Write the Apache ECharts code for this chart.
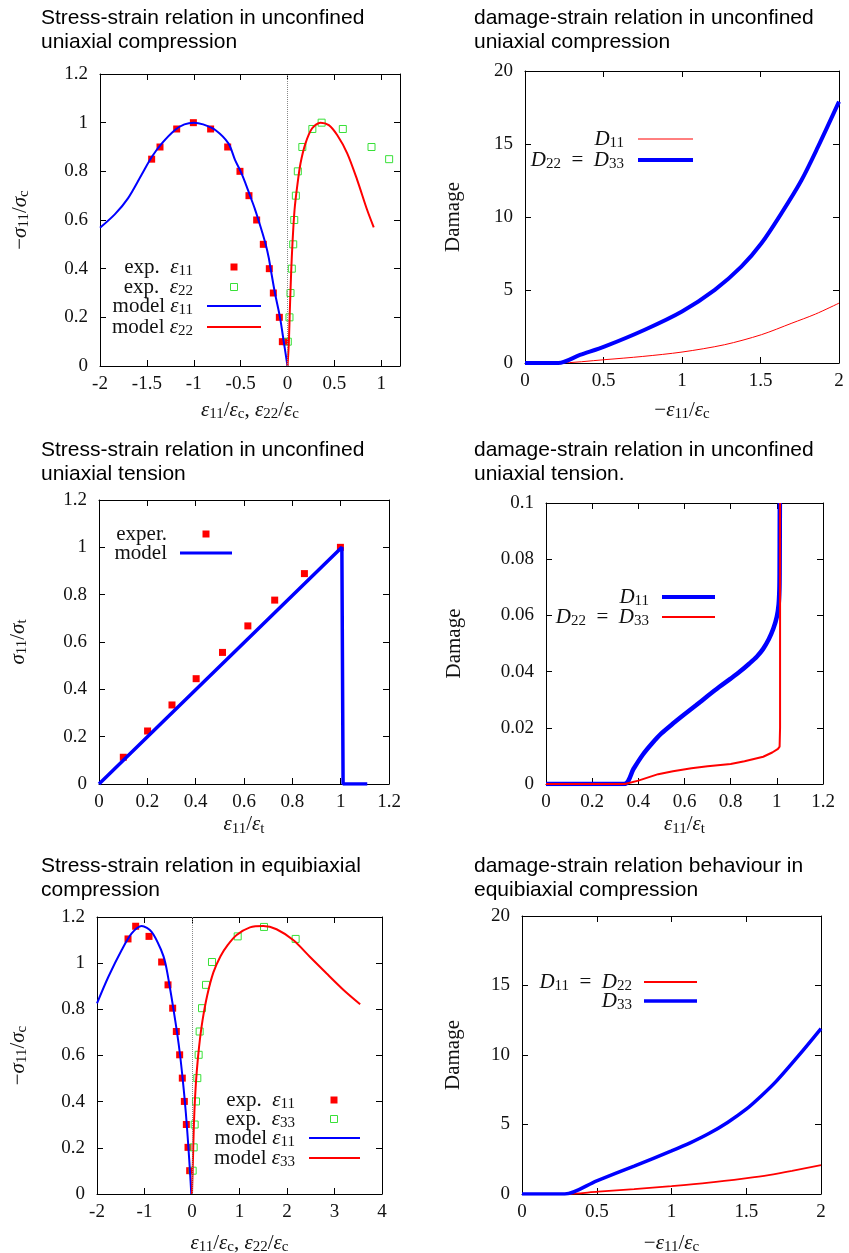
<!DOCTYPE html>
<html>
<head>
<meta charset="utf-8">
<script src="https://cdn.jsdelivr.net/npm/echarts@6/dist/echarts.min.js"></script>
<style>
  html, body { margin: 0; padding: 0; background: #fff; }
  #chart { width: 849px; height: 1253px; }
</style>
</head>
<body>
<div id="chart"></div>
<script>
// ---- unconfined uniaxial compression: stress-strain ----
var ucExp11X = [-1.449, -1.36, -1.182, -1.004, -0.82, -0.638, -0.507, -0.411, -0.329, -0.258, -0.194, -0.151, -0.087, -0.055, -0.02];
var ucExp11Y = [0.85, 0.9, 0.974, 1.0, 0.974, 0.9, 0.8, 0.7, 0.6, 0.5, 0.4, 0.3, 0.2, 0.1, 0.1];
var ucExp22X = [0.003, 0.021, 0.032, 0.046, 0.061, 0.072, 0.089, 0.11, 0.158, 0.265, 0.364, 0.59, 0.896, 1.084];
var ucExp22Y = [0.1, 0.2, 0.3, 0.4, 0.5, 0.6, 0.7, 0.8, 0.9, 0.974, 1.0, 0.974, 0.9, 0.85];
var ucMod11X = [-2, -1.84, -1.7, -1.555, -1.45, -1.34, -1.2, -1.1, -1.0, -0.9, -0.77, -0.63, -0.56, -0.5, -0.45, -0.4, -0.35, -0.31, -0.27, -0.233, -0.2, -0.18, -0.134, -0.08, -0.04, 0];
var ucMod11Y = [0.568, 0.624, 0.69, 0.787, 0.858, 0.915, 0.97, 0.993, 1.0, 0.993, 0.97, 0.915, 0.847, 0.8, 0.753, 0.7, 0.648, 0.6, 0.55, 0.5, 0.445, 0.4, 0.3, 0.2, 0.1, 0];
var ucMod22X = [0, 0.014, 0.025, 0.04, 0.053, 0.075, 0.103, 0.139, 0.192, 0.263, 0.352, 0.441, 0.53, 0.637, 0.744, 0.85, 0.92];
var ucMod22Y = [0, 0.093, 0.23, 0.395, 0.504, 0.641, 0.737, 0.833, 0.915, 0.977, 1.0, 0.99, 0.949, 0.874, 0.764, 0.641, 0.57];

// ---- unconfined uniaxial compression: damage ----
var ucD22X = [0, 0.212, 0.35, 0.509, 0.763, 1.0, 1.209, 1.378, 1.506, 1.633, 1.76, 1.866, 2.0];
var ucD22Y = [0, 0, 0.55, 1.14, 2.28, 3.53, 5.01, 6.6, 8.2, 10.25, 12.5, 14.8, 17.9];
var ucD11X = [0, 0.212, 0.509, 0.75, 1.0, 1.27, 1.506, 1.7, 1.85, 2.0];
var ucD11Y = [0, 0, 0.23, 0.45, 0.75, 1.25, 1.94, 2.73, 3.35, 4.1];

// ---- unconfined uniaxial tension: stress-strain ----
var utExpX = [0.1006, 0.201, 0.302, 0.402, 0.511, 0.616, 0.727, 0.85, 0.999];
var utExpY = [0.113, 0.224, 0.334, 0.445, 0.556, 0.668, 0.777, 0.889, 1.0];
var utModX = [0, 1.005, 1.01, 1.11];
var utModY = [0, 1.0, 0, 0];

// ---- unconfined uniaxial tension: damage ----
var utD11X = [0, 0.339, 0.38, 0.42, 0.46, 0.5, 0.55, 0.6, 0.65, 0.7, 0.75, 0.8, 0.84, 0.88, 0.913, 0.94, 0.965, 0.985, 1.0, 1.008, 1.011, 1.012, 1.013];
var utD11Y = [0, 0, 0.0055, 0.0105, 0.0145, 0.018, 0.0215, 0.0248, 0.028, 0.0313, 0.0345, 0.0375, 0.04, 0.0428, 0.0453, 0.048, 0.0515, 0.0553, 0.0595, 0.064, 0.069, 0.075, 0.1];
var utD22X = [0, 0.342, 0.4, 0.486, 0.55, 0.63, 0.7, 0.8, 0.86, 0.941, 0.98, 1.005, 1.012, 1.014, 1.014];
var utD22Y = [0, 0, 0.0012, 0.0035, 0.0045, 0.0056, 0.0063, 0.0071, 0.0081, 0.0097, 0.0112, 0.0125, 0.0133, 0.02, 0.1];

// ---- equibiaxial compression: stress-strain ----
var ebExp11X = [-1.347, -1.186, -0.905, -0.639, -0.505, -0.407, -0.33, -0.26, -0.204, -0.161, -0.119, -0.084, -0.049];
var ebExp11Y = [1.105, 1.16, 1.116, 1.005, 0.906, 0.805, 0.704, 0.603, 0.502, 0.401, 0.301, 0.202, 0.101];
var ebExp33X = [0.014, 0.035, 0.056, 0.084, 0.112, 0.14, 0.161, 0.211, 0.295, 0.421, 0.962, 1.516, 2.182];
var ebExp33Y = [0.101, 0.202, 0.301, 0.401, 0.502, 0.603, 0.704, 0.805, 0.906, 1.005, 1.116, 1.157, 1.105];
var ebMod11X = [-2, -1.76, -1.48, -1.27, -1.06, -0.85, -0.65, -0.56, -0.47, -0.39, -0.315, -0.25, -0.197, -0.15, -0.11, -0.075, -0.043, -0.015];
var ebMod11Y = [0.826, 0.941, 1.057, 1.129, 1.161, 1.136, 1.057, 1.0, 0.9, 0.8, 0.7, 0.6, 0.5, 0.4, 0.3, 0.2, 0.1, 0];
var ebMod33X = [0, 0.02, 0.04, 0.065, 0.1, 0.15, 0.22, 0.32, 0.45, 0.6, 0.75, 0.94, 1.22, 1.5, 1.78, 2.13, 2.48, 2.83, 3.19, 3.54];
var ebMod33Y = [0, 0.15, 0.3, 0.42, 0.53, 0.64, 0.75, 0.86, 0.96, 1.03, 1.078, 1.122, 1.155, 1.161, 1.147, 1.1, 1.028, 0.956, 0.884, 0.822];

// ---- equibiaxial compression: damage ----
var ebD33X = [0, 0.286, 0.5, 0.75, 1.0, 1.125, 1.25, 1.375, 1.5, 1.6, 1.7, 1.85, 2.0];
var ebD33Y = [0, 0, 0.95, 2.0, 3.1, 3.68, 4.35, 5.15, 6.1, 7.05, 8.1, 9.95, 11.9];
var ebD11X = [0, 0.286, 0.509, 0.75, 1.0, 1.25, 1.493, 1.65, 1.806, 2.0];
var ebD11Y = [0, 0, 0.17, 0.35, 0.57, 0.82, 1.13, 1.36, 1.66, 2.08];

var serif = 'Liberation Serif';
var sans = 'Liberation Sans';
var BLUE = '#0000ff', RED = '#ff0000', GREEN = '#38e038';

var rich = {
    i: { fontFamily: serif, fontStyle: 'italic', fontSize: 21, lineHeight: 24, color: '#111' },
    r: { fontFamily: serif, fontSize: 21, lineHeight: 24, color: '#111' },
    s: { fontFamily: serif, fontSize: 15, lineHeight: 24, padding: [9, 0, 0, 0], color: '#111' }
};

function pairs(xs, ys) {
    return xs.map(function (x, i) { return [x, ys[i]]; });
}

var panels = [
    { grid: { left: 100, top: 74, width: 300, height: 292 }, x: [-2, 1.2, 0.5], y: [0, 1.2, 0.2],
      xName: '{i|ε}{s|11}{r|/}{i|ε}{s|c}{r|, }{i|ε}{s|22}{r|/}{i|ε}{s|c}', xGap: 32,
      yName: '{r|−}{i|σ}{s|11}{r|/}{i|σ}{s|c}', yGap: 68, hideMax: true },
    { grid: { left: 525, top: 71, width: 314, height: 292 }, x: [0, 2, 0.5], y: [0, 20, 5],
      xName: '{r|−}{i|ε}{s|11}{r|/}{i|ε}{s|c}', xGap: 35, yName: '{r|Damage}', yGap: 60 },
    { grid: { left: 99, top: 500, width: 290, height: 284 }, x: [0, 1.2, 0.2], y: [0, 1.2, 0.2],
      xName: '{i|ε}{s|11}{r|/}{i|ε}{s|t}', xGap: 28, yName: '{i|σ}{s|11}{r|/}{i|σ}{s|t}', yGap: 69 },
    { grid: { left: 546, top: 503, width: 277, height: 281 }, x: [0, 1.2, 0.2], y: [0, 0.1, 0.02],
      xName: '{i|ε}{s|11}{r|/}{i|ε}{s|t}', xGap: 28, yName: '{r|Damage}', yGap: 80 },
    { grid: { left: 97, top: 917, width: 285, height: 277 }, x: [-2, 4, 1], y: [0, 1.2, 0.2],
      xName: '{i|ε}{s|11}{r|/}{i|ε}{s|c}{r|, }{i|ε}{s|22}{r|/}{i|ε}{s|c}', xGap: 37,
      yName: '{r|−}{i|σ}{s|11}{r|/}{i|σ}{s|c}', yGap: 67 },
    { grid: { left: 522, top: 916, width: 299, height: 278 }, x: [0, 2, 0.5], y: [0, 20, 5],
      xName: '{r|−}{i|ε}{s|11}{r|/}{i|ε}{s|c}', xGap: 37, yName: '{r|Damage}', yGap: 57 }
];

function makeAxis(gridIndex, range, position, main, name, gap, hideMax) {
    var isX = position === 'bottom' || position === 'top';
    return {
        type: 'value', gridIndex: gridIndex, position: position,
        min: range[0], max: range[1], interval: range[2],
        splitLine: { show: false },
        axisLine: { show: true, onZero: false, lineStyle: { color: '#000', width: 1 } },
        axisTick: { show: true, inside: true, length: 6, lineStyle: { color: '#000', width: 1 } },
        axisLabel: {
            show: main, margin: isX ? 9 : 12, fontFamily: serif, fontSize: 19, color: '#111',
            showMaxLabel: hideMax ? false : null
        },
        name: main ? name : '', nameLocation: 'middle', nameGap: gap,
        nameTextStyle: { rich: rich, fontFamily: serif, fontSize: 21, color: '#111' }
    };
}

var grid = [], xAxis = [], yAxis = [];
panels.forEach(function (p, i) {
    grid.push(Object.assign({ outerBoundsMode: 'none' }, p.grid));
    xAxis.push(makeAxis(i, p.x, 'bottom', true, p.xName, p.xGap, p.hideMax));
    yAxis.push(makeAxis(i, p.y, 'left', true, p.yName, p.yGap, false));
});
panels.forEach(function (p, i) {
    xAxis.push(makeAxis(i, p.x, 'top', false, '', 0, false));
    yAxis.push(makeAxis(i, p.y, 'right', false, '', 0, false));
});

function line(idx, xs, ys, color, width, smooth) {
    return {
        type: 'line', xAxisIndex: idx, yAxisIndex: idx, data: pairs(xs, ys),
        showSymbol: false, symbol: 'none', smooth: smooth,
        lineStyle: { color: color, width: width }, itemStyle: { color: color }, z: 3
    };
}
function dots(idx, xs, ys, filled) {
    return {
        type: 'scatter', xAxisIndex: idx, yAxisIndex: idx, data: pairs(xs, ys),
        symbol: 'rect', symbolSize: 7, z: 2,
        itemStyle: filled ? { color: RED, opacity: 1 }
                          : { color: 'rgba(0,0,0,0)', borderColor: GREEN, borderWidth: 1, opacity: 1 }
    };
}
function zeroLine(idx) {
    return {
        type: 'line', xAxisIndex: idx, yAxisIndex: idx, data: [], z: 1,
        markLine: {
            silent: true, symbol: ['none', 'none'], label: { show: false },
            lineStyle: { color: '#888', type: 'dotted', width: 1 },
            data: [{ xAxis: 0 }]
        }
    };
}

var series = [
    zeroLine(0),
    dots(0, ucExp11X, ucExp11Y, true),
    dots(0, ucExp22X, ucExp22Y, false),
    line(0, ucMod11X, ucMod11Y, BLUE, 2, 0.3),
    line(0, ucMod22X, ucMod22Y, RED, 2, 0.3),

    line(1, ucD11X, ucD11Y, RED, 1, 0.3),
    line(1, ucD22X, ucD22Y, BLUE, 4, 0.3),

    dots(2, utExpX, utExpY, true),
    line(2, utModX, utModY, BLUE, 3.5, false),

    line(3, utD11X, utD11Y, BLUE, 4.5, 0.3),
    line(3, utD22X, utD22Y, RED, 2, false),

    zeroLine(4),
    dots(4, ebExp11X, ebExp11Y, true),
    dots(4, ebExp33X, ebExp33Y, false),
    line(4, ebMod11X, ebMod11Y, BLUE, 2, 0.3),
    line(4, ebMod33X, ebMod33Y, RED, 2, 0.3),

    line(5, ebD11X, ebD11Y, RED, 1.8, 0.3),
    line(5, ebD33X, ebD33Y, BLUE, 3.5, 0.3)
];

var titleStyle = { fontFamily: sans, fontSize: 21, fontWeight: 'normal', color: '#000', lineHeight: 24 };
var titles = [
    ['Stress-strain relation in unconfined\nuniaxial compression', 41, 6],
    ['damage-strain relation in unconfined\nuniaxial compression', 474, 6],
    ['Stress-strain relation in unconfined\nuniaxial tension', 41, 438],
    ['damage-strain relation in unconfined\nuniaxial tension.', 474, 438],
    ['Stress-strain relation in equibiaxial\ncompression', 41, 854],
    ['damage-strain relation behaviour in\nequibiaxial compression', 474, 854]
].map(function (t) {
    return { text: t[0], left: t[1], top: t[2], padding: 0, textStyle: titleStyle };
});

// gnuplot-style keys: right-aligned text with the sample to its right
function keyText(x, y, str) {
    return { type: 'text', x: x, y: y, z: 10,
             style: { text: str, rich: rich, align: 'right', verticalAlign: 'middle', fill: '#111' } };
}
function keyLine(x1, x2, y, color, w) {
    return { type: 'line', z: 10, shape: { x1: x1, y1: y, x2: x2, y2: y }, style: { stroke: color, lineWidth: w } };
}
function keyBox(cx, cy, filled) {
    return { type: 'rect', z: 10, shape: { x: cx - 3.5, y: cy - 3.5, width: 7, height: 7 },
             style: filled ? { fill: RED } : { fill: 'none', stroke: GREEN, lineWidth: 1 } };
}

var graphic = [
    keyText(193, 267, '{r|exp.  }{i|ε}{s|11}'), keyBox(234, 267, true),
    keyText(193, 287, '{r|exp.  }{i|ε}{s|22}'), keyBox(234, 287, false),
    keyText(193, 306, '{r|model }{i|ε}{s|11}'), keyLine(207, 261, 306, BLUE, 2),
    keyText(193, 327, '{r|model }{i|ε}{s|22}'), keyLine(207, 261, 327, RED, 2),

    keyText(624, 139, '{i|D}{s|11}'), keyLine(638, 693, 139, RED, 1),
    keyText(624, 160, '{i|D}{s|22}{r|  =  }{i|D}{s|33}'), keyLine(638, 693, 160, BLUE, 4),

    keyText(167, 534, '{r|exper.}'), keyBox(206, 534, true),
    keyText(167, 553, '{r|model}'), keyLine(180, 232, 553, BLUE, 3),

    keyText(649, 597, '{i|D}{s|11}'), keyLine(662, 715, 597, BLUE, 4),
    keyText(649, 617, '{i|D}{s|22}{r|  =  }{i|D}{s|33}'), keyLine(662, 715, 617, RED, 2),

    keyText(295, 1100, '{r|exp.  }{i|ε}{s|11}'), keyBox(334, 1100, true),
    keyText(295, 1119, '{r|exp.  }{i|ε}{s|33}'), keyBox(334, 1119, false),
    keyText(295, 1138, '{r|model }{i|ε}{s|11}'), keyLine(309, 360, 1138, BLUE, 2),
    keyText(295, 1158, '{r|model }{i|ε}{s|33}'), keyLine(309, 360, 1158, RED, 2),

    keyText(632, 982, '{i|D}{s|11}{r|  =  }{i|D}{s|22}'), keyLine(644, 697, 982, RED, 2),
    keyText(632, 1001, '{i|D}{s|33}'), keyLine(644, 697, 1001, BLUE, 3.5)
];

var myChart = echarts.init(document.getElementById('chart'));
var option = {
    backgroundColor: '#fff',
    animation: false,
    title: titles,
    grid: grid,
    xAxis: xAxis,
    yAxis: yAxis,
    series: series,
    graphic: graphic
};
myChart.setOption(option);
window.addEventListener('resize', function () {
    myChart.resize();
});
</script>
</body>
</html>
